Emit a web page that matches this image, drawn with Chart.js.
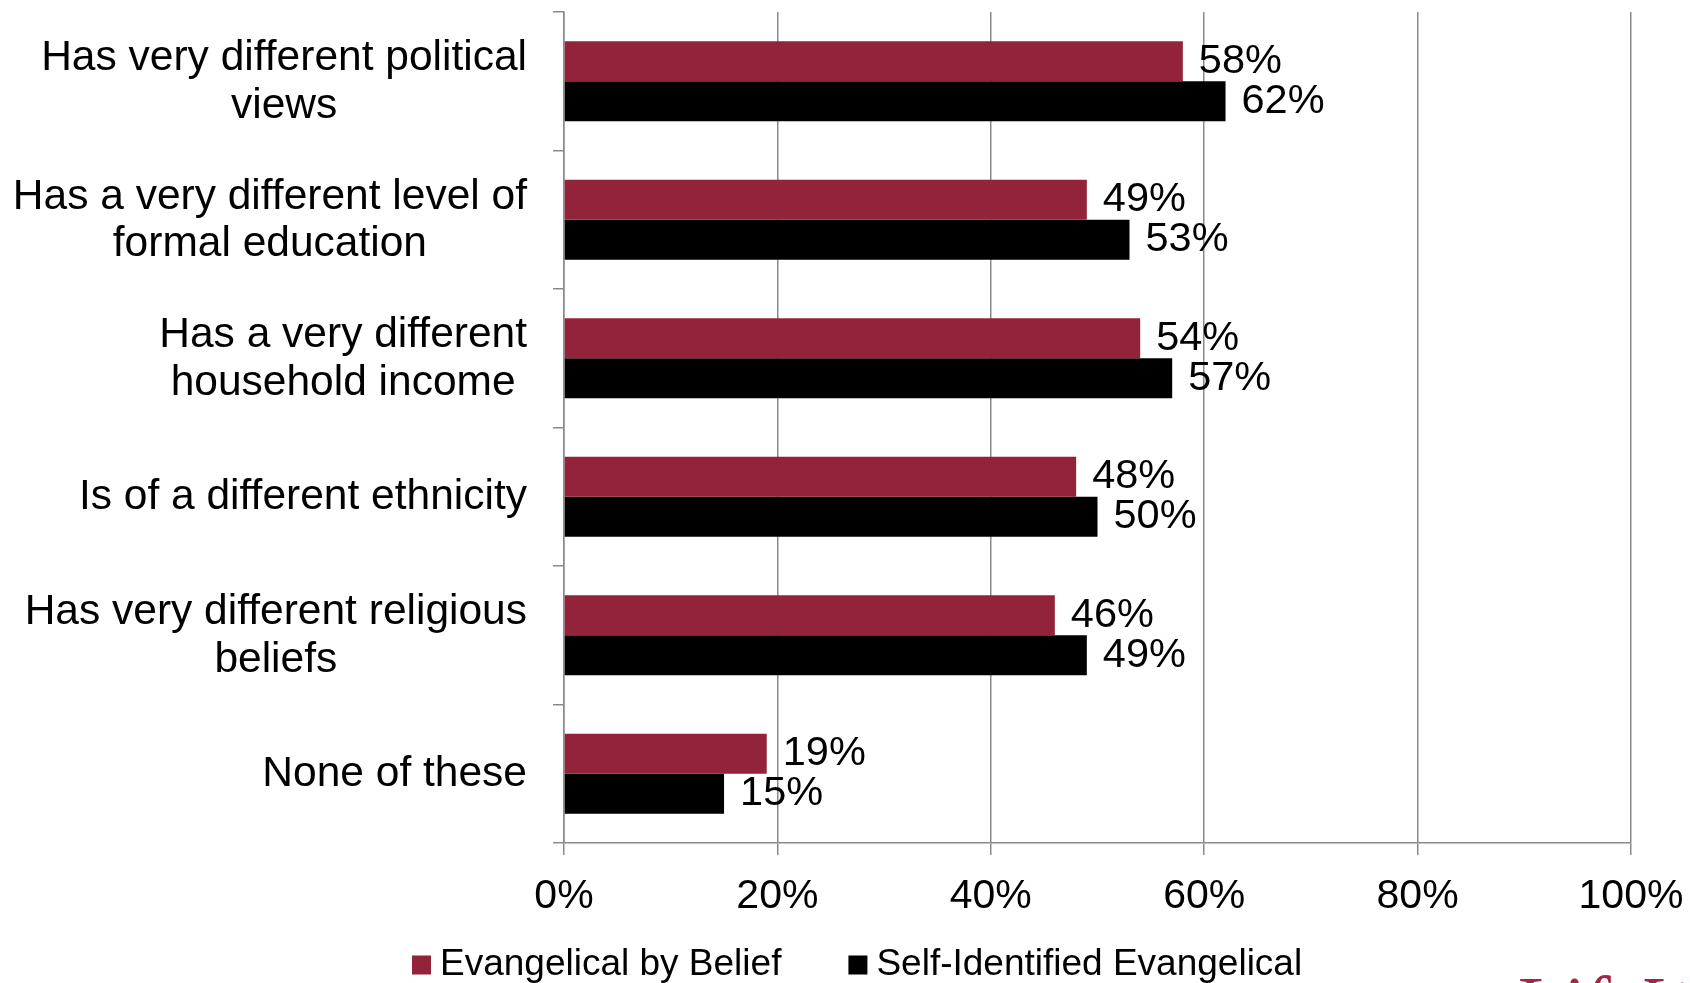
<!DOCTYPE html>
<html>
<head>
<meta charset="utf-8">
<script src="https://cdn.jsdelivr.net/npm/chart.js@4.4.1/dist/chart.umd.min.js"></script>
<style>
  html, body { margin: 0; padding: 0; background: #fff; }
  #wrap { width: 1690px; height: 983px; position: relative; }
</style>
</head>
<body>
<div id="wrap"><canvas id="chart" width="1690" height="983"></canvas></div>
<script>
const categories = [
    ['Has very different political', 'views'],
    ['Has a very different level of', 'formal education'],
    ['Has a very different', 'household income'],
    ['Is of a different ethnicity'],
    ['Has very different religious', 'beliefs'],
    ['None of these']
];
const seriesNames = ['Evangelical by Belief', 'Self-Identified Evangelical'];
const beliefValues = [58, 49, 54, 48, 46, 19];
const selfIdValues = [62, 53, 57, 50, 49, 15];
const seriesColors = ['#92233a', '#000000'];
const xTickValues = [0, 20, 40, 60, 80, 100];

const FONT = '"Liberation Sans", Arial, sans-serif';
const GRID = '#8a8a8a';

// label kategori: blok rata kanan, baris di dalamnya rata tengah
const categoryLabels = {
    id: 'categoryLabels',
    afterDraw(chart) {
        const { ctx, scales: { y } } = chart;
        const right = 527, lh = 47.5;
        ctx.save();
        ctx.font = `42.5px ${FONT}`;
        ctx.fillStyle = '#000';
        ctx.textAlign = 'center';
        ctx.textBaseline = 'middle';
        categories.forEach((lines, i) => {
            const yc = y.getPixelForValue(i) + 1;
            const w = Math.max(...lines.map(l => ctx.measureText(l).width));
            const cx = right - w / 2;
            lines.forEach((line, k) => {
                ctx.fillText(line, cx, yc + (k - (lines.length - 1) / 2) * lh);
            });
        });
        ctx.restore();
    }
};

// angka persen di ujung bar
const valueLabels = {
    id: 'valueLabels',
    afterDatasetsDraw(chart) {
        const { ctx } = chart;
        ctx.save();
        ctx.font = `41.5px ${FONT}`;
        ctx.fillStyle = '#000';
        ctx.textAlign = 'left';
        ctx.textBaseline = 'middle';
        chart.data.datasets.forEach((ds, di) => {
            chart.getDatasetMeta(di).data.forEach((bar, i) => {
                ctx.fillText(ds.data[i] + '%', bar.x + 16, bar.y);
            });
        });
        ctx.restore();
    }
};

// legend manual di bawah (jarak antar item lebar seperti aslinya)
const bottomLegend = {
    id: 'bottomLegend',
    afterDraw(chart) {
        const { ctx } = chart;
        const yc = 965, box = 19, gap = 9, itemGap = 67;
        let x = 412;
        ctx.save();
        ctx.font = `37px ${FONT}`;
        ctx.textAlign = 'left';
        ctx.textBaseline = 'middle';
        chart.data.datasets.forEach(ds => {
            ctx.fillStyle = ds.backgroundColor;
            ctx.fillRect(x, yc - box / 2, box, box);
            ctx.fillStyle = '#000';
            ctx.fillText(ds.label, x + box + gap, yc);
            x += box + gap + ctx.measureText(ds.label).width + itemGap;
        });
        // potongan logo di pojok kanan bawah
        ctx.textBaseline = 'alphabetic';
        ctx.font = '76px "Liberation Serif", "DejaVu Serif", serif';
        ctx.fillStyle = '#a52640';
        ctx.fillText('LifeWay', 1518, 1029);
        ctx.restore();
    }
};

new Chart(document.getElementById('chart'), {
    type: 'bar',
    data: {
        labels: categories,
        datasets: [
            { label: seriesNames[0], data: beliefValues, backgroundColor: seriesColors[0], categoryPercentage: 0.578, barPercentage: 1 },
            { label: seriesNames[1], data: selfIdValues, backgroundColor: seriesColors[1], categoryPercentage: 0.578, barPercentage: 1 }
        ]
    },
    options: {
        indexAxis: 'y',
        responsive: false,
        animation: false,
        layout: { padding: { top: 12, right: 59, bottom: 0, left: 0 } },
        plugins: { legend: { display: false }, tooltip: { enabled: false } },
        scales: {
            x: {
                min: 0,
                max: 100,
                afterBuildTicks: s => { s.ticks = xTickValues.map(v => ({ value: v })); },
                afterFit: s => { s.height = 140; s.paddingLeft = 0; s.paddingRight = 0; },
                grid: { color: GRID, lineWidth: 1.5, tickLength: 12 },
                border: { color: GRID, width: 1.5 },
                ticks: { font: { family: FONT, size: 41 }, color: '#000', padding: 17, maxRotation: 0, callback: v => v + '%' }
            },
            y: {
                afterFit: s => { s.width = 564; },
                grid: { drawOnChartArea: false, color: GRID, lineWidth: 1.5, tickLength: 11 },
                border: { color: GRID, width: 1.5 },
                ticks: { display: false }
            }
        }
    },
    plugins: [categoryLabels, valueLabels, bottomLegend]
});
</script>
</body>
</html>
